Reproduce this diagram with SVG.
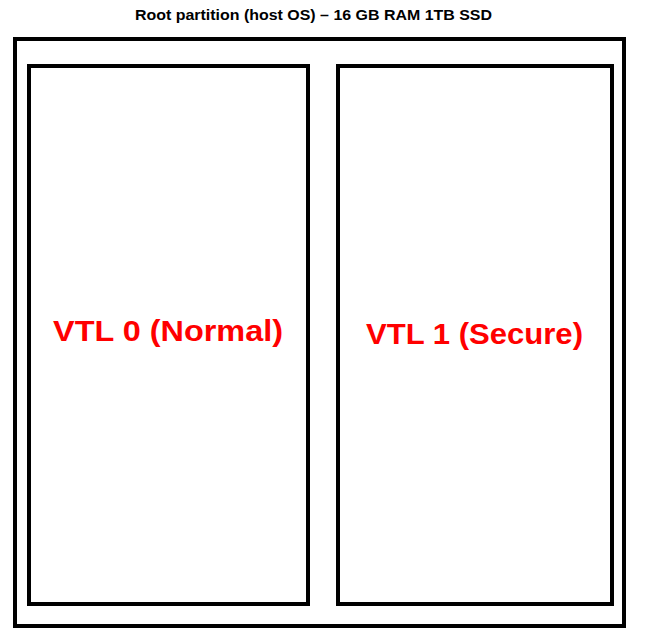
<svg xmlns="http://www.w3.org/2000/svg" width="647" height="640" viewBox="0 0 647 640">
<style>
.box{fill:none;stroke:#000;stroke-width:4}
.title{font-family:"Liberation Sans",Arial,sans-serif;font-weight:bold;font-size:15px;fill:#000}
.vtl{font-family:"Liberation Sans",Arial,sans-serif;font-weight:bold;font-size:29.5px;fill:#ff0000}
</style>
<rect width="647" height="640" fill="#fff"/>
<g id="root">
<text class="title" x="135" y="20" textLength="357" lengthAdjust="spacingAndGlyphs">Root partition (host OS) – 16 GB RAM 1TB SSD</text>
<rect class="box" x="15" y="39" width="609" height="587"/>
</g>
<g id="vtl0">
<rect class="box" x="29" y="66" width="279" height="538"/>
<text class="vtl" x="53" y="341" textLength="230" lengthAdjust="spacingAndGlyphs">VTL 0 (Normal)</text>
</g>
<g id="vtl1">
<rect class="box" x="338" y="66" width="274" height="538"/>
<text class="vtl" x="366" y="343.5" textLength="217" lengthAdjust="spacingAndGlyphs">VTL 1 (Secure)</text>
</g>
<g id="connectors"></g>
</svg>
